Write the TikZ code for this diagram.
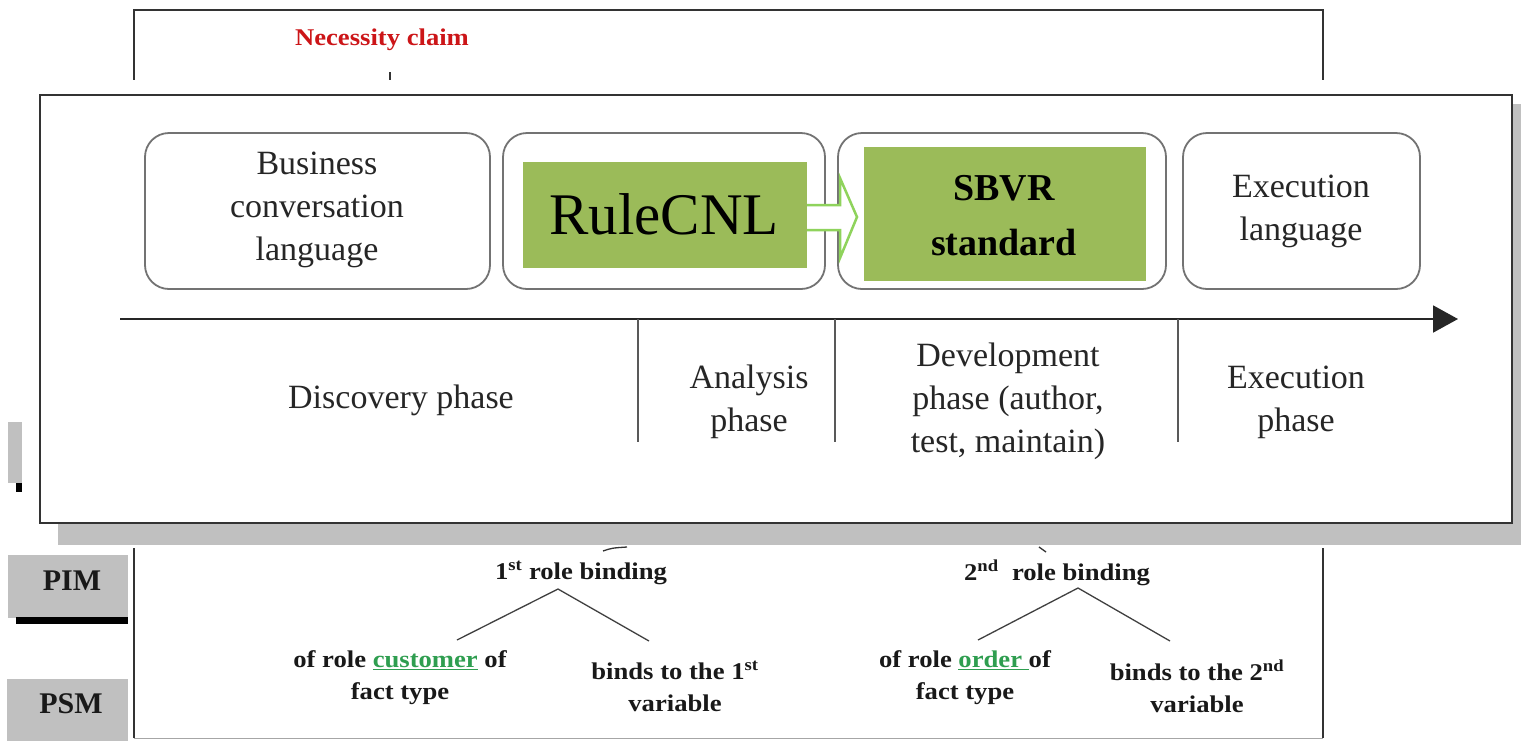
\documentclass[tikz,border=0pt]{standalone}
\usepackage{fontspec}
\setmainfont{Liberation Serif}
\usepackage{graphicx}
\usetikzlibrary{arrows.meta}
\definecolor{shadowgray}{HTML}{C0C0C0}
\definecolor{boxgreen}{HTML}{9BBB59}
\definecolor{arrowgreen}{HTML}{8FD35C}
\definecolor{linkgreen}{HTML}{2F9E50}
\definecolor{necred}{HTML}{CC1518}
\definecolor{framegray}{HTML}{333333}
\definecolor{textdark}{HTML}{262626}
\newcommand{\wx}[1]{\scalebox{1.11}[1]{#1}}
\begin{document}
\begin{tikzpicture}[x=1pt,y=-1pt,
  roundbox/.style={draw=black!55, line width=1.8, rounded corners=24, fill=white, inner sep=0},
  greenbox/.style={fill=boxgreen, draw=none, inner sep=0},
  bigtext/.style={font=\fontsize{34}{43}\selectfont, text=textdark, align=center, inner sep=0},
  botlabel/.style={font=\bfseries\fontsize{24}{32}\selectfont, align=center, inner sep=0, text=black!90},
  tickline/.style={draw=black!65, line width=1.6},
  link/.style={draw=black!75, line width=1.3},
  graytab/.style={fill=shadowgray, draw=none, inner sep=0},
  tabtext/.style={font=\bfseries\fontsize{30}{30}\selectfont, text=black!90, inner sep=0}]
\useasboundingbox (0,0) rectangle (1521,740);
\fill[white] (0,0) rectangle (1521,740);

% back diagram frame
\draw[black!80, line width=1.5] (134,738) -- (134,10) -- (1323,10) -- (1323,738);
\draw[black!35, line width=1] (134,738) -- (1323,738);
\node[text=necred, font=\bfseries\fontsize{24}{24}\selectfont, inner sep=0] (nec) at (382,40) {\wx{Necessity claim}};
\coordinate (necA) at (390,72);
\coordinate (necB) at (390,80);
\draw[black!80, line width=1.2] (necA) -- (necB);

% cover, shadow and front frame
\fill[white] (40,80) rectangle (1521,548);
\fill[shadowgray] (58,104) rectangle (1521,545);
\node[draw=framegray, line width=2, fill=white, minimum width=1472, minimum height=428, inner sep=0] (front) at (776,309) {};

% left tabs
\fill[shadowgray] (8,422) rectangle (22,483);
\fill[black] (16,483) rectangle (22,492);
\node[graytab, minimum width=120, minimum height=63] (pimbox) at (68,586) {};
\node[tabtext] (pim) at (72,581) {PIM};
\fill[black] (16,617) rectangle (128,624);
\node[graytab, minimum width=121, minimum height=63] (psmbox) at (67.5,710) {};
\node[tabtext] (psm) at (71,704) {PSM};

% top boxes
\node[roundbox, minimum width=345, minimum height=156] (b1) at (317.5,211) {};
\node[bigtext] (t1) at (317,210) {Business\\conversation\\language};

\node[roundbox, minimum width=322, minimum height=156] (b2) at (664,211) {};
\node[greenbox, minimum width=284, minimum height=106] (g2) at (665,215) {};
\node[font=\fontsize{59}{59}\selectfont, text=black, inner sep=0] (rc) at (664,214) {RuleCNL};

\node[roundbox, minimum width=328, minimum height=156] (b3) at (1002,211) {};
\node[greenbox, minimum width=282, minimum height=134] (g3) at (1005,214) {};
\node[font=\bfseries\fontsize{38}{55}\selectfont, text=black, align=center, inner sep=0] (sbvr) at (1004,216) {SBVR\\standard};

\node[roundbox, minimum width=237, minimum height=156] (b4) at (1301.5,211) {};
\node[bigtext] (t4) at (1301,211) {Execution\\language};

% hollow green arrow
\draw[arrowgreen, line width=2.5, fill=white, line join=miter]
  (g2.east |- 0,205) -- (840,205) -- (840,178) -- (857,217) -- (840,258) -- (840,230) -- (g2.east |- 0,230);

% timeline
\coordinate (tl0) at (120,319);
\coordinate (tl1) at (1458,319);
\draw[black!85, line width=2, -{Triangle[length=25pt,width=27pt]}] (tl0) -- (tl1);
\coordinate (k1a) at (638,319); \coordinate (k1b) at (638,442);
\coordinate (k2a) at (835,319); \coordinate (k2b) at (835,442);
\coordinate (k3a) at (1178,319); \coordinate (k3b) at (1178,442);
\draw[tickline] (k1a) -- (k1b);
\draw[tickline] (k2a) -- (k2b);
\draw[tickline] (k3a) -- (k3b);

\node[bigtext] (p1) at (401,400) {Discovery phase};
\node[bigtext] (p2) at (749,402) {Analysis\\phase};
\node[bigtext] (p3) at (1008,401) {Development\\phase (author,\\test, maintain)};
\node[bigtext] (p4) at (1296,402) {Execution\\phase};

% bottom remnants
\draw[black!80, line width=1.3] (603,551) .. controls (612,548) .. (627,547);
\draw[black!80, line width=1.3] (1039,547) -- (1046,552);

% bottom tree 1
\node[botlabel] (r1) at (581,573) {\wx{1\textsuperscript{st} role binding}};
\node[botlabel] (c1) at (400,678) {\wx{of role {\color{linkgreen}\underline{customer}} of}\\\wx{fact type}};
\node[botlabel] (v1) at (675,686) {\wx{binds to the 1\textsuperscript{st}}\\\wx{variable}};
\coordinate (ap1) at (558,589);
\coordinate (e1l) at (457,640);
\coordinate (e1r) at (649,641);
\draw[link] (e1l) -- (ap1) -- (e1r);

% bottom tree 2
\node[botlabel] (r2) at (1057,573) {\wx{2\textsuperscript{nd}\ \ role binding}};
\node[botlabel] (c2) at (965,678) {\wx{of role {\color{linkgreen}\underline{order\ }}of}\\\wx{fact type}};
\node[botlabel] (v2) at (1197,686) {\wx{binds to the 2\textsuperscript{nd}}\\\wx{variable}};
\coordinate (ap2) at (1078,588);
\coordinate (e2l) at (978,640);
\coordinate (e2r) at (1170,641);
\draw[link] (e2l) -- (ap2) -- (e2r);
\end{tikzpicture}
\end{document}
